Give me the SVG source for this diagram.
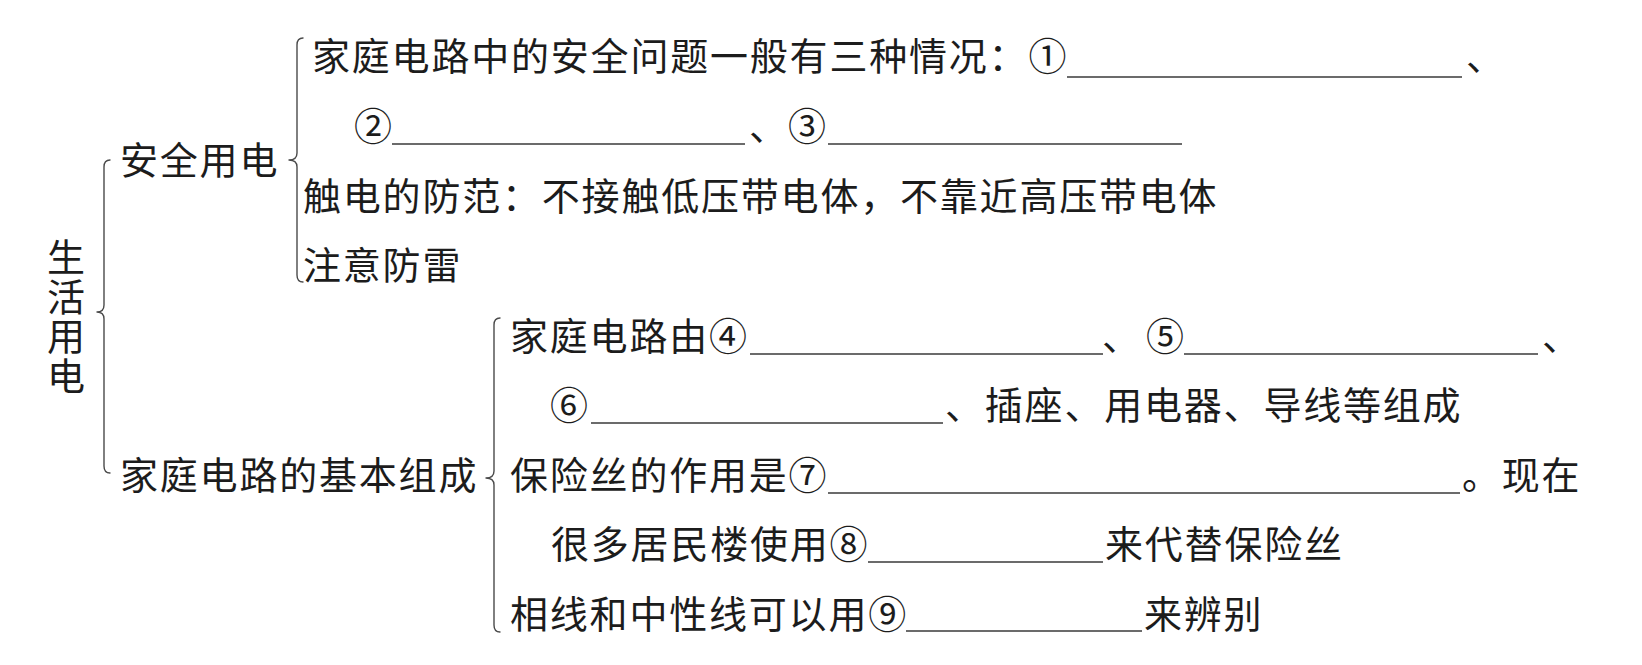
<svg xmlns="http://www.w3.org/2000/svg" width="1642" height="665" viewBox="0 0 1642 665">
<style>
  .t { font-family: "Noto Sans CJK SC", "Noto Sans", sans-serif; font-size: 38px; letter-spacing: 1.8px; fill: #1c1c1c; }
  .v { writing-mode: vertical-rl; text-orientation: upright; letter-spacing: 1.5px; }
  .ul { stroke: #3a3a3a; stroke-width: 1.6; fill: none; }
  .br { stroke: #4a4a4a; stroke-width: 1.4; fill: none; stroke-linecap: round; stroke-linejoin: round; }
</style>
<rect x="0" y="0" width="1642" height="665" fill="#ffffff"/>

<g id="connectors">
  <path class="br" d="M110,160 Q104,160 104,167 L104,305 Q104,312 97,312 Q104,312 104,319 L104,466 Q104,473 110,473"/>
  <path class="br" d="M303,38 Q297,38 297,45 L297,153 Q297,160 289,160 Q297,160 297,167 L297,275 Q297,282 303,282"/>
  <path class="br" d="M500,318 Q494,318 494,325 L494,471 Q494,478 486,478 Q494,478 494,485 L494,625 Q494,632 500,632"/>
</g>

<g id="root">
  <text class="t v" x="66" y="238">生活用电</text>
</g>

<g id="safety">
  <text class="t" x="120" y="174">安全用电</text>
</g>

<g id="safety-issues">
  <text class="t" x="312" y="70">家庭电路中的安全问题一般有三种情况：①</text>
  <line class="ul" x1="1067" y1="77" x2="1462" y2="77"/>
  <text class="t" x="1466" y="70">、</text>
  <text class="t" x="354" y="140">②</text>
  <line class="ul" x1="392" y1="144" x2="745" y2="144"/>
  <text class="t" x="749" y="140">、</text>
  <text class="t" x="788" y="140">③</text>
  <line class="ul" x1="828" y1="144" x2="1182" y2="144"/>
</g>

<g id="shock-prevention">
  <text class="t" x="303" y="210">触电的防范：不接触低压带电体，不靠近高压带电体</text>
</g>

<g id="lightning">
  <text class="t" x="303" y="279">注意防雷</text>
</g>

<g id="basic">
  <text class="t" x="120" y="489">家庭电路的基本组成</text>
</g>

<g id="components">
  <text class="t" x="510" y="350">家庭电路由④</text>
  <line class="ul" x1="750" y1="354" x2="1103" y2="354"/>
  <text class="t" x="1102" y="350">、</text>
  <text class="t" x="1146" y="350">⑤</text>
  <line class="ul" x1="1184" y1="354" x2="1538" y2="354"/>
  <text class="t" x="1542" y="350">、</text>
  <text class="t" x="550" y="419">⑥</text>
  <line class="ul" x1="591" y1="423" x2="943" y2="423"/>
  <text class="t" x="945" y="419">、插座、用电器、导线等组成</text>
</g>

<g id="fuse">
  <text class="t" x="510" y="489">保险丝的作用是⑦</text>
  <line class="ul" x1="828" y1="493" x2="1460" y2="493"/>
  <text class="t" x="1462" y="489">。现在</text>
  <text class="t" x="551" y="558">很多居民楼使用⑧</text>
  <line class="ul" x1="868" y1="562" x2="1103" y2="562"/>
  <text class="t" x="1105" y="558">来代替保险丝</text>
</g>

<g id="wires">
  <text class="t" x="510" y="628">相线和中性线可以用⑨</text>
  <line class="ul" x1="906" y1="631" x2="1142" y2="631"/>
  <text class="t" x="1144" y="628">来辨别</text>
</g>
</svg>
